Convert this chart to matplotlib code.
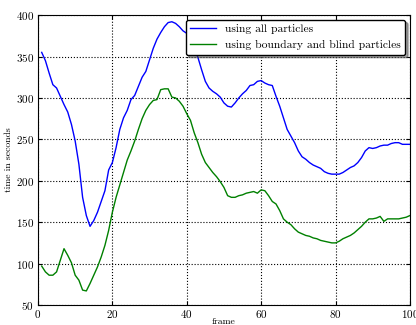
import numpy as np
import matplotlib
matplotlib.use('Agg')
import matplotlib.pyplot as plt

# Computer Modern look
plt.rcParams['font.family'] = 'serif'
plt.rcParams['font.serif'] = ['cmr10']
plt.rcParams['mathtext.fontset'] = 'cm'
plt.rcParams['axes.formatter.use_mathtext'] = True
plt.rcParams['axes.unicode_minus'] = False

frames = list(range(1, 101))

t_all = [355, 345, 330, 316, 312, 302, 292, 283, 268, 248,
         220, 180, 158, 145, 152, 162, 175, 188, 213, 222,
         240, 262, 276, 285, 298, 303, 314, 325, 332, 346,
         360, 371, 379, 386, 391, 392, 390, 386, 381, 378,
         372, 360, 349, 334, 320, 312, 308, 305, 301, 294,
         290, 289, 294, 300, 305, 309, 315, 316, 320, 321,
         318, 316, 315, 302, 290, 276, 262, 254, 246, 236,
         229, 226, 222, 219, 217, 215, 211, 209, 208, 208,
         208, 210, 213, 216, 218, 222, 228, 236, 240, 239,
         240, 242, 243, 243, 245, 246, 246, 244, 244, 244]

t_boundary = [97, 90, 86, 86, 90, 104, 118, 110, 101, 86,
              80, 68, 67, 76, 86, 96, 108, 122, 140, 162,
              180, 195, 210, 225, 236, 248, 262, 275, 285, 292,
              297, 298, 310, 311, 311, 301, 300, 296, 290, 281,
              273, 258, 246, 232, 222, 216, 210, 205, 199, 192,
              182, 180, 180, 182, 183, 185, 186, 187, 185, 189,
              188, 182, 175, 172, 164, 154, 150, 147, 142, 138,
              136, 134, 133, 131, 130, 128, 127, 126, 125, 125,
              127, 130, 132, 134, 137, 141, 145, 150, 154, 154,
              155, 157, 151, 154, 154, 154, 154, 155, 156, 158]

fig = plt.figure(figsize=(4.16, 3.25), dpi=100)
ax = fig.add_axes([0.0913, 0.0615, 0.894, 0.892])

ax.plot(frames, t_all, color='#0000ff', linewidth=1.0, label='using all particles')
ax.plot(frames, t_boundary, color='#008000', linewidth=1.0,
        label='using boundary and blind particles')

ax.set_xlim(0, 100)
ax.set_ylim(50, 400)
ax.set_xticks([0, 20, 40, 60, 80, 100])
ax.set_yticks(range(50, 401, 50))
ax.tick_params(direction='in', top=True, right=True, labelsize=8, length=3, pad=3)
ax.tick_params(axis='x', pad=2)
ax.grid(True, color='black', linestyle=':', linewidth=0.8)

ax.set_xlabel('frame', fontsize=7, labelpad=-1.5)
ax.set_ylabel('time in seconds', fontsize=7, labelpad=2)

leg = ax.legend(loc='upper right', fontsize=8.3, shadow=True, fancybox=True,
                framealpha=1, borderaxespad=0.4, handlelength=2.2)
leg.get_frame().set_edgecolor('black')

fig.savefig('out.png', dpi=100)
